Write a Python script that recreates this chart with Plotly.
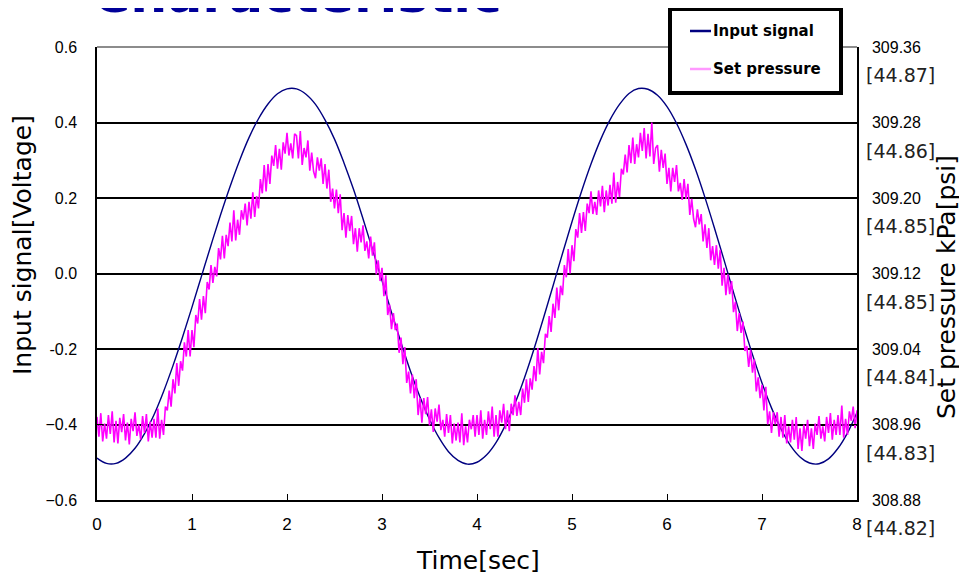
import plotly.graph_objects as go

# ---------------- data ----------------
title_text = "Characteristic"
input_name = "Input signal"
pressure_name = "Set pressure"

input_dt = 0.1
input_signal = [
    -0.489, -0.503, -0.503, -0.489, -0.463, -0.424, -0.374, -0.313, -0.244, -0.169,
    -0.089, -0.007, 0.075, 0.155, 0.230, 0.299, 0.360, 0.410, 0.449, 0.476,
    0.489, 0.489, 0.475, 0.448, 0.407, 0.356, 0.293, 0.223, 0.145, 0.064,
    -0.019, -0.103, -0.183, -0.259, -0.327, -0.386, -0.435, -0.472, -0.495, -0.505,
    -0.500, -0.481, -0.448, -0.401, -0.344, -0.276, -0.200, -0.118, -0.033, 0.053,
    0.137, 0.217, 0.290, 0.354, 0.407, 0.448, 0.477, 0.490, 0.488, 0.472,
    0.442, 0.398, 0.342, 0.276, 0.201, 0.120, 0.036, -0.050, -0.134, -0.215,
    -0.290, -0.356, -0.412, -0.456, -0.486, -0.502, -0.504, -0.491, -0.463, -0.422,
    -0.368,
]

pressure_dt = 0.02
set_pressure_kpa = [
    308.968, 308.947, 308.972, 308.942, 308.961,
    308.945, 308.970, 308.950, 308.974, 308.941,
    308.964, 308.940, 308.967, 308.952, 308.971,
    308.943, 308.962, 308.939, 308.966, 308.953,
    308.973, 308.948, 308.960, 308.944, 308.969,
    308.951, 308.971, 308.942, 308.963, 308.946,
    308.966, 308.946, 308.977, 308.945, 308.965,
    308.949, 308.979, 308.975, 308.996, 308.979,
    309.008, 308.993, 309.025, 309.001, 309.027,
    309.017, 309.047, 309.032, 309.060, 309.032,
    309.060, 309.042, 309.076, 309.067, 309.093,
    309.071, 309.096, 309.078, 309.111, 309.103,
    309.129, 309.110, 309.127, 309.117, 309.147,
    309.135, 309.160, 309.136, 309.161, 309.149,
    309.174, 309.154, 309.187, 309.155, 309.177,
    309.161, 309.187, 309.177, 309.194, 309.171,
    309.196, 309.178, 309.206, 309.180, 309.202,
    309.189, 309.220, 309.205, 309.235, 309.207,
    309.236, 309.215, 309.245, 309.234, 309.256,
    309.231, 309.252, 309.230, 309.259, 309.247,
    309.269, 309.245, 309.258, 309.242, 309.268,
    309.266, 309.242, 309.271, 309.235, 309.253,
    309.243, 309.261, 309.229, 309.248, 309.228,
    309.221, 309.243, 309.229, 309.242, 309.215,
    309.236, 309.210, 309.230, 309.196, 309.210,
    309.189, 309.209, 309.184, 309.204, 309.166,
    309.184, 309.158, 309.182, 309.165, 309.181,
    309.151, 309.168, 309.143, 309.168, 309.153,
    309.171, 309.144, 309.154, 309.136, 309.159,
    309.139, 309.153, 309.119, 309.134, 309.112,
    309.126, 309.096, 309.118, 309.076, 309.087,
    309.061, 309.078, 309.060, 309.067, 309.036,
    309.052, 309.024, 309.042, 309.004, 309.016,
    308.993, 309.013, 308.988, 309.008, 308.970,
    308.988, 308.962, 308.988, 308.971, 308.989,
    308.959, 308.976, 308.952, 308.977, 308.963,
    308.981, 308.954, 308.965, 308.947, 308.971,
    308.951, 308.970, 308.940, 308.961, 308.943,
    308.962, 308.941, 308.972, 308.938, 308.958,
    308.941, 308.965, 308.955, 308.970, 308.947,
    308.970, 308.949, 308.975, 308.945, 308.965,
    308.949, 308.974, 308.955, 308.979, 308.947,
    308.970, 308.947, 308.975, 308.962, 308.982,
    308.955, 308.975, 308.953, 308.982, 308.970,
    308.991, 308.969, 308.984, 308.970, 308.998,
    308.983, 309.008, 308.984, 309.009, 308.997,
    309.022, 309.006, 309.041, 309.013, 309.037,
    309.025, 309.056, 309.052, 309.075, 309.058,
    309.088, 309.073, 309.105, 309.081, 309.107,
    309.097, 309.129, 309.116, 309.146, 309.120,
    309.150, 309.133, 309.167, 309.158, 309.184,
    309.163, 309.185, 309.165, 309.194, 309.184,
    309.207, 309.183, 309.196, 309.182, 309.208,
    309.191, 309.213, 309.185, 309.208, 309.192,
    309.214, 309.194, 309.227, 309.195, 309.217,
    309.201, 309.231, 309.225, 309.246, 309.227,
    309.256, 309.237, 309.264, 309.236, 309.257,
    309.243, 309.269, 309.250, 309.274, 309.242,
    309.268, 309.244, 309.280, 309.236, 309.253,
    309.256, 309.228, 309.251, 309.232, 309.247,
    309.215, 309.232, 309.207, 309.232, 309.217,
    309.235, 309.207, 309.216, 309.198, 309.220,
    309.199, 309.215, 309.182, 309.199, 309.178,
    309.169, 309.188, 309.172, 309.183, 309.154,
    309.172, 309.147, 309.168, 309.134, 309.149,
    309.129, 309.150, 309.125, 309.145, 309.107,
    309.126, 309.097, 309.119, 309.098, 309.112,
    309.079, 309.090, 309.059, 309.078, 309.057,
    309.069, 309.038, 309.043, 309.021, 309.039,
    309.015, 309.029, 308.995, 309.010, 308.988,
    309.002, 308.975, 309.000, 308.960, 308.974,
    308.951, 308.973, 308.960, 308.973, 308.947,
    308.968, 308.946, 308.970, 308.940, 308.958,
    308.941, 308.965, 308.944, 308.968, 308.934,
    308.956, 308.932, 308.960, 308.945, 308.965,
    308.937, 308.956, 308.934, 308.961, 308.949,
    308.969, 308.945, 308.958, 308.942, 308.968,
    308.951, 308.972, 308.944, 308.965, 308.949,
    308.970, 308.949, 308.980, 308.946, 308.966,
    308.949, 308.974, 308.964, 308.979, 308.956,
    308.975,
]

x_ticks = [0, 1, 2, 3, 4, 5, 6, 7, 8]
left_ticks = [-0.6, -0.4, -0.2, 0.0, 0.2, 0.4, 0.6]
left_ticktext = ["\u22120.6", "\u22120.4", "-0.2", "0.0", "0.2", "0.4", "0.6"]
right_ticks = [308.88, 308.96, 309.04, 309.12, 309.20, 309.28, 309.36]
right_ticktext = ["308.88", "308.96", "309.04", "309.12", "309.20", "309.28", "309.36"]
psi_labels = ["[44.82]", "[44.83]", "[44.84]", "[44.85]", "[44.85]", "[44.86]", "[44.87]"]

x_title = "Time[sec]"
y_title = "Input signal[Voltage]"
y2_title = "Set pressure kPa[psi]"

# ---------------- figure ----------------
t_input = [round(i * input_dt, 3) for i in range(len(input_signal))]
t_press = [round(i * pressure_dt, 3) for i in range(len(set_pressure_kpa))]

NAVY = "#000080"
MAGENTA = "#ff00ff"
TICKFONT = dict(family="Liberation Sans, Arial, sans-serif", size=16, color="#000")
TITLEFONT = dict(family="DejaVu Sans, Verdana, sans-serif", size=25, color="#000")

fig = go.Figure()
fig.add_trace(go.Scatter(x=t_press, y=set_pressure_kpa, mode="lines", name=pressure_name,
                         yaxis="y2", line=dict(color=MAGENTA, width=1.6), showlegend=False))
fig.add_trace(go.Scatter(x=t_input, y=input_signal, mode="lines", name=input_name,
                         line=dict(color=NAVY, width=1.4, shape="spline", smoothing=1.0),
                         showlegend=False))

# page body offset (screen px) of the figure
OFF = 8
W, H = 967 - OFF, 579 - OFF
PLOT_L, PLOT_R, PLOT_T, PLOT_B = 97, 857, 47, 500   # screen px
L = PLOT_L - OFF
T = PLOT_T - OFF
R = W - (PLOT_R - OFF)
B = H - (PLOT_B - OFF)
PW, PH = PLOT_R - PLOT_L, PLOT_B - PLOT_T


def px(xs):
    return (xs - PLOT_L) / PW


def py(ys):
    return 1 - (ys - PLOT_T) / PH


fig.update_layout(
    width=W, height=H,
    margin=dict(l=L, r=R, t=T, b=B, pad=0),
    paper_bgcolor="white", plot_bgcolor="white",
    showlegend=False,
    xaxis=dict(range=[0, 8], tickvals=x_ticks, ticktext=[str(v) for v in x_ticks],
               showgrid=False, zeroline=False, showline=True, linecolor="#000", linewidth=1.5,
               ticks="inside", ticklen=6, tickwidth=1.2, tickcolor="#000",
               tickfont=dict(family="Liberation Sans Narrow, Liberation Sans, Arial", size=17, color="#000"),
               ticklabelstandoff=8),
    yaxis=dict(range=[-0.6, 0.6], tickvals=left_ticks, ticktext=left_ticktext,
               showgrid=True, gridcolor="#000", gridwidth=1.5, zeroline=False,
               showline=True, linecolor="#000", linewidth=1.5,
               ticks="inside", ticklen=6, tickwidth=1.2, tickcolor="#000",
               tickfont=TICKFONT, ticklabelstandoff=15),
    yaxis2=dict(range=[308.88, 309.36], tickvals=right_ticks, ticktext=right_ticktext,
                overlaying="y", side="right", showgrid=False, zeroline=False,
                showline=True, linecolor="#000", linewidth=1.5,
                ticks="inside", ticklen=6, tickwidth=1.2, tickcolor="#000",
                tickfont=TICKFONT, ticklabelstandoff=10),
)

shapes = [
    dict(type="line", xref="paper", yref="paper", x0=0, x1=1, y0=1, y1=1,
         line=dict(color="#8c8c8c", width=2), layer="above"),
    dict(type="rect", xref="paper", yref="paper", x0=px(670), x1=px(841), y0=py(93), y1=py(9),
         line=dict(color="#000", width=4), fillcolor="white", layer="above"),
    dict(type="line", xref="paper", yref="paper", x0=px(690), x1=px(711), y0=py(31), y1=py(31),
         line=dict(color=NAVY, width=2.5), layer="above"),
    dict(type="line", xref="paper", yref="paper", x0=px(690), x1=px(711), y0=py(69), y1=py(69),
         line=dict(color="#ff99ff", width=2.5), layer="above"),
]

annotations = [
    dict(text="<b>%s</b>" % title_text, xref="paper", yref="paper", x=px(90), y=py(12 - 0.35 * 52),
         xanchor="left", yanchor="middle", showarrow=False,
         font=dict(family="DejaVu Sans, Verdana, sans-serif", size=52, color="#000099")),
    dict(text="<b>%s</b>" % input_name, xref="paper", yref="paper", x=px(711), y=py(31),
         xanchor="left", yanchor="middle", showarrow=False,
         font=dict(family="DejaVu Sans, Verdana, sans-serif", size=15, color="#000")),
    dict(text="<b>%s</b>" % pressure_name, xref="paper", yref="paper", x=px(711), y=py(69),
         xanchor="left", yanchor="middle", showarrow=False,
         font=dict(family="DejaVu Sans, Verdana, sans-serif", size=15, color="#000")),
    dict(text=y_title, xref="paper", yref="paper", x=px(22), y=py(245), textangle=-90,
         xanchor="center", yanchor="middle", showarrow=False, font=TITLEFONT),
    dict(text=y2_title, xref="paper", yref="paper", x=px(946), y=py(287), textangle=-90,
         xanchor="center", yanchor="middle", showarrow=False, font=TITLEFONT),
    dict(text=x_title, xref="paper", yref="paper", x=px(478), y=py(560),
         xanchor="center", yanchor="middle", showarrow=False, font=TITLEFONT),
]
for val, lab in zip(right_ticks, psi_labels):
    annotations.append(dict(text=lab, xref="paper", yref="y2", x=px(900), y=val, yshift=-28,
                            xanchor="center", yanchor="middle", showarrow=False,
                            font=dict(family="DejaVu Sans, Verdana, sans-serif", size=19, color="#222")))

fig.update_layout(shapes=shapes, annotations=annotations)
fig.write_html("out.html")
